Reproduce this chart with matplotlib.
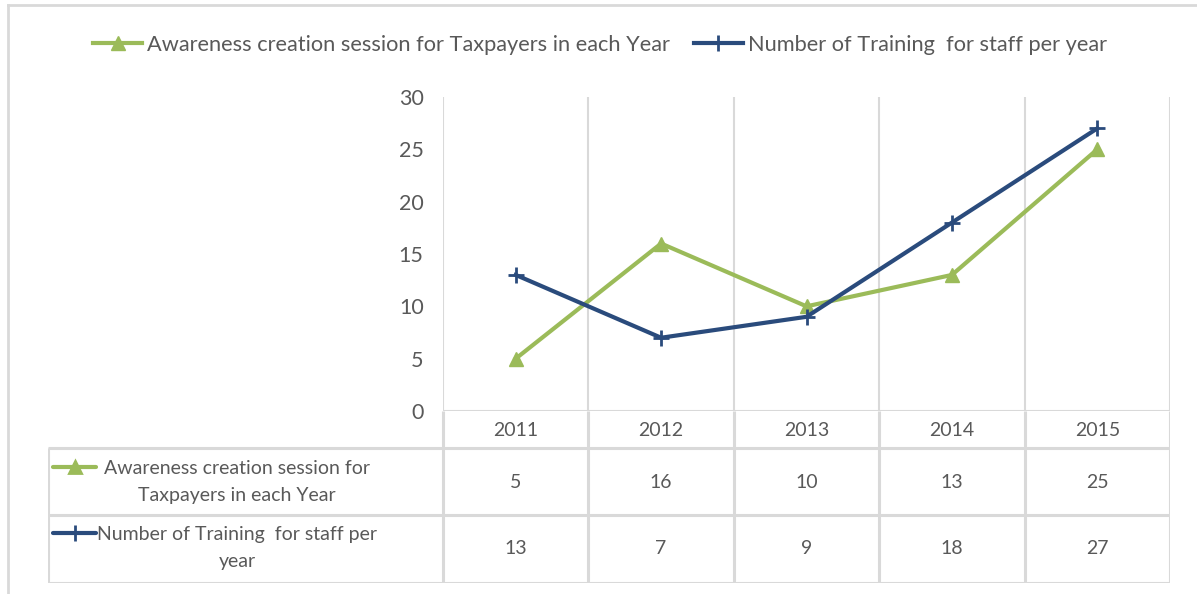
import matplotlib.pyplot as plt
from matplotlib.lines import Line2D

years = ['2011', '2012', '2013', '2014', '2015']
awareness = [5, 16, 10, 13, 25]
training = [13, 7, 9, 18, 27]
names = ['Awareness creation session for Taxpayers in each Year',
         'Number of Training  for staff per year']
table_names = ['Awareness creation session for\nTaxpayers in each Year',
               'Number of Training  for staff per\nyear']
yticks = [0, 5, 10, 15, 20, 25, 30]

green = '#9BBB59'
navy = '#2A4B7C'
grid = '#D9D9D9'
txt = '#595959'
plt.rcParams['font.family'] = ['Lato', 'DejaVu Sans']

W, H = 1197, 594
fig = plt.figure(figsize=(W / 100, H / 100), dpi=100)


def box(l, t, r, b):
    # pixel box (image coords) -> figure fraction rect
    return [l / W, 1 - b / H, (r - l) / W, (b - t) / H]


# outer chart frame (only top/left visible)
fig.add_artist(Line2D([8 / W, 1], [1 - 5 / H, 1 - 5 / H], color=grid, lw=2))
fig.add_artist(Line2D([8 / W, 8 / W], [0, 1 - 5 / H], color=grid, lw=2))

# main plot
ax = fig.add_axes(box(443, 97, 1170, 411))
x = list(range(len(years)))
ax.plot(x, awareness, color=green, lw=3, marker='^', ms=10, zorder=3)
ax.plot(x, training, color=navy, lw=3, marker='+', ms=12, mew=2, zorder=4)
ax.set_xlim(-0.5, 4.5)
ax.set_ylim(0, 30)
ax.set_yticks(yticks)
ax.set_xticks([])
ax.tick_params(axis='y', length=0, pad=14, labelsize=15.5, labelcolor=txt)
for s in ax.spines.values():
    s.set_visible(False)
for i in range(len(years) + 1):
    ax.axvline(i - 0.5, color=grid, lw=1.5, zorder=1)
ax.axhline(0, color=grid, lw=1.5, zorder=1)

# data table below
tl = 48
tab = fig.add_axes(box(tl, 411, 1170, 583))
left = -0.5 - (443 - tl) / (727 / 5)
tab.set_xlim(left, 4.5)
tab.set_ylim(583, 411)
tab.axis('off')
for i in range(len(years) + 1):
    tab.plot([i - 0.5, i - 0.5], [411, 583], color=grid, lw=2.2, solid_capstyle='butt')
tab.plot([left, left], [448, 583], color=grid, lw=2.2, solid_capstyle='butt')
for yy in [448, 515, 583]:
    tab.plot([left, 4.5], [yy, yy], color=grid, lw=2.2, solid_capstyle='butt')
for i, yr in enumerate(years):
    tab.text(i, 431, yr, ha='center', va='center', fontsize=14, color=txt)
    tab.text(i, 482, str(awareness[i]), ha='center', va='center', fontsize=14, color=txt)
    tab.text(i, 549, str(training[i]), ha='center', va='center', fontsize=14, color=txt)

px = (4.5 - left) / (1170 - tl)
def tx(p):
    return left + (p - tl) * px

for yrow, label, col, mk, ms in [(482, table_names[0], green, '^', 9),
                                  (548, table_names[1], navy, '+', 11)]:
    tab.text(tx(237), yrow, label, ha='center', va='center', fontsize=14,
             color=txt, linespacing=1.75)
    ky = yrow - 15
    tab.plot([tx(53), tx(96)], [ky, ky], color=col, lw=3, solid_capstyle='round')
    tab.plot([tx(75)], [ky], color=col, marker=mk, ms=ms, mew=2)

# legend on top
handles = [Line2D([], [], color=green, lw=3, marker='^', ms=10),
           Line2D([], [], color=navy, lw=3, marker='+', ms=12, mew=2)]
fig.legend(handles, names, loc='center', bbox_to_anchor=(600 / W, 1 - 45 / H),
           ncol=2, frameon=False, fontsize=15.7, labelcolor=txt,
           handlelength=2.25, handletextpad=0.23, columnspacing=1.1)

fig.savefig('out.png', dpi=100)
